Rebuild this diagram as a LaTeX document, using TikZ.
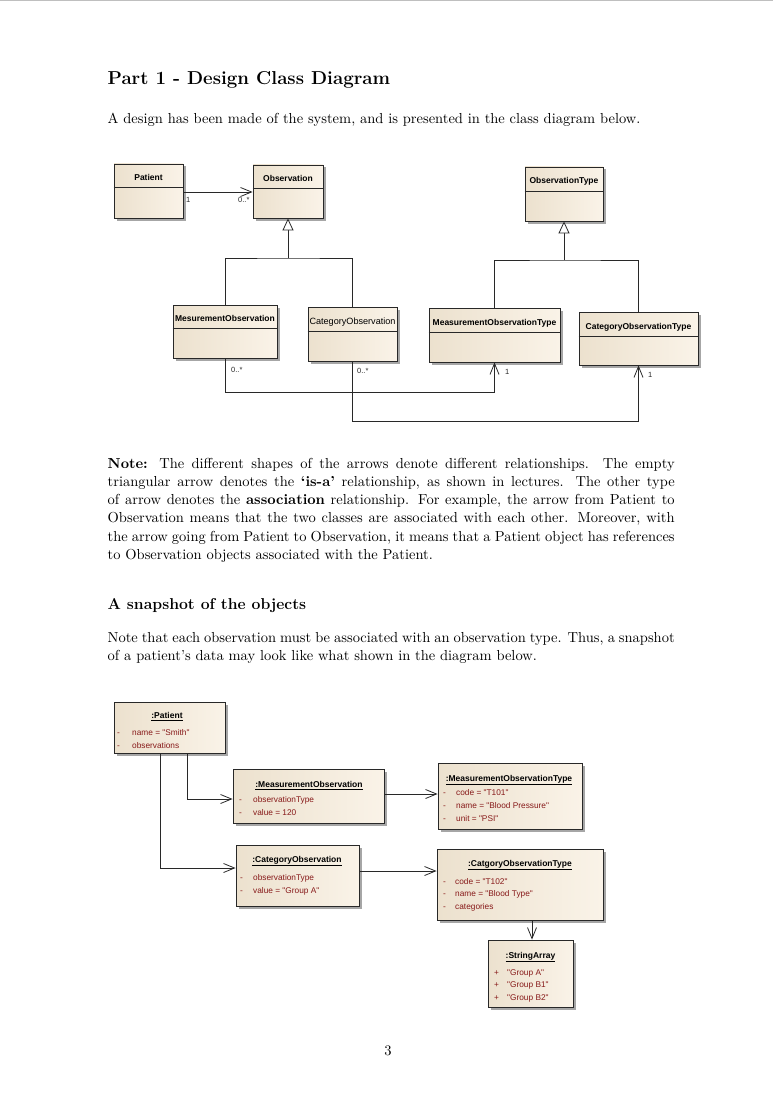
\documentclass[tikz,border=0pt]{standalone}
\usepackage{fontspec}
\setmainfont{lmroman10}[Extension=.otf, UprightFont=*-regular, BoldFont=*-bold, ItalicFont=*-italic]
\newfontfamily\headfont{lmroman12-bold}[Extension=.otf]
\newfontfamily\umlfont{Liberation Sans}
\usetikzlibrary{arrows.meta,shadows}
\definecolor{attrc}{RGB}{135,25,25}
\definecolor{lnc}{RGB}{40,40,40}
\definecolor{boxl}{RGB}{236,225,206}
\definecolor{boxr}{RGB}{250,243,232}
\newcommand\umlbx[6]{%
  \node[umlbox, minimum width={#4-#2}, minimum height={#5-#3}] (#1) at ({(#2+#4)/2},{(#3+#5)/2}) {};
  \ifx&#6&\else\draw[divline] (#1.west |- 0,#6) -- (#1.east |- 0,#6);\fi}
\begin{document}
\begin{tikzpicture}[x=1pt,y=-1pt,
  body/.style={anchor=base west, inner sep=0pt, font=\fontsize{14.5}{18.2}\selectfont},
  sect/.style={anchor=base west, inner sep=0pt, font=\headfont\fontsize{18.7}{22}\selectfont},
  subsect/.style={anchor=base west, inner sep=0pt, font=\headfont\fontsize{15.75}{19}\selectfont},
  umlbox/.style={draw=lnc, line width=0.8pt, left color=boxl, right color=boxr, inner sep=0pt,
     drop shadow={shadow xshift=2.5pt, shadow yshift=-2.5pt, fill=black!35, opacity=1}},
  divline/.style={draw=lnc, line width=0.8pt},
  cname/.style={anchor=base, inner sep=0pt, text=black, font=\umlfont\bfseries\fontsize{8.5}{10}\selectfont},
  cnamer/.style={anchor=base, inner sep=0pt, text=black, font=\umlfont\fontsize{9.1}{10}\selectfont},
  attr/.style={anchor=base west, inner sep=0pt, text=attrc, font=\umlfont\fontsize{8.3}{10}\selectfont},
  mult/.style={anchor=base west, inner sep=0pt, text=black!85, font=\umlfont\fontsize{7.5}{8}\selectfont},
  plain/.style={draw=lnc, line width=0.8pt},
  assoc/.style={draw=lnc, line width=0.8pt, -{Straight Barb[length=11pt,width=9pt,line width=0.8pt]}},
  gen/.style={draw=lnc, line width=0.8pt, -{Triangle[open,length=12pt,width=11pt,fill=white,line width=0.8pt]}}
]
\useasboundingbox (0,0) rectangle (773,1110);
\draw[black!25, line width=0.6pt] (0,0.5) -- (773,0.5);

% ---------- texts ----------
\node[sect] (title) at (107.5,84.3) {Part 1 - Design Class Diagram};
\node[body] (p1) at (107.5,123.3) {A design has been made of the system, and is presented in the class diagram below.};

\node[body] (n1) at (107.5,468.3) {\makebox[567pt][s]{\textbf{Note:} The different shapes of the arrows denote different relationships. The empty}};
\node[body] (n2) at (107.5,486.5) {\makebox[567pt][s]{triangular arrow denotes the \textbf{`is-a'} relationship, as shown in lectures. The other type}};
\node[body] (n3) at (107.5,504.7) {\makebox[567pt][s]{of arrow denotes the \textbf{association} relationship. For example, the arrow from Patient to}};
\node[body] (n4) at (107.5,522.9) {\makebox[567pt][s]{Observation means that the two classes are associated with each other. Moreover, with}};
\node[body] (n5) at (107.5,541.1) {\makebox[567pt][s]{the arrow going from Patient to Observation, it means that a Patient object has references}};
\node[body] (n6) at (107.5,559.3) {to Observation objects associated with the Patient.};

\node[subsect] (snap) at (107.5,609) {A snapshot of the objects};
\node[body] (s1) at (107.5,642.5) {\makebox[567pt][s]{Note that each observation must be associated with an observation type. Thus, a snapshot}};
\node[body] (s2) at (107.5,660.7) {of a patient's data may look like what shown in the diagram below.};

\node[body, anchor=base] (pg) at (388,1055) {3};

% ---------- class diagram ----------
\umlbx{patient}{114}{164}{183}{218}{187}
\umlbx{obs}{253}{165}{323}{218}{188}
\umlbx{obstype}{525}{167}{603}{221}{191}
\umlbx{mobs}{173}{305}{277}{358}{328}
\umlbx{cobs}{308}{307}{397}{361}{331}
\umlbx{mobstype}{429}{308}{560}{362}{332}
\umlbx{cobstype}{579}{312}{698}{365}{336}

\node[cname] (tpatient) at (148.5,180.5) {Patient};
\node[cname] (tobs) at (288,181.5) {Observation};
\node[cname] (tobstype) at (564,184) {ObservationType};
\node[cname] (tmobs) at (225,321.5) {MesurementObservation};
\node[cnamer] (tcobs) at (352.5,324) {CategoryObservation};
\node[cname] (tmobstype) at (494.5,325) {MeasurementObservationType};
\node[cname] (tcobstype) at (638.5,329) {CategoryObservationType};

\draw[assoc] (patient.east |- 0,192) -- (obs.west |- 0,192);
\node[mult] (m1) at (186,203) {1};
\node[mult] (m2) at (238,203) {0..*};

\coordinate (j1) at (288,258);
\draw[plain] (mobs.north) |- (j1) -| (cobs.north);
\draw[gen] (j1) -- (obs.south);
\coordinate (j2) at (564,260);
\draw[plain] (mobstype.north) |- (j2) -| (cobstype.north);
\draw[gen] (j2) -- (obstype.south);

\draw[assoc] (mobs.south) -- (mobs.south |- 0,392) -| (mobstype.south);
\draw[assoc] (cobs.south) -- (cobs.south |- 0,421) -| (cobstype.south);
\node[mult] (m3) at (231,372) {0..*};
\node[mult] (m4) at (357,373) {0..*};
\node[mult] (m5) at (505,374.5) {1};
\node[mult] (m6) at (648,377.5) {1};

% ---------- object diagram ----------
\umlbx{opat}{114}{702}{225}{753}{}
\umlbx{omobs}{233}{769}{384}{823}{}
\umlbx{omtype}{438}{763}{582}{829}{}
\umlbx{ocobs}{236}{845}{359}{906}{}
\umlbx{octype}{437}{849}{603}{920}{}
\umlbx{osa}{488}{940}{573}{1007}{}

\node[cname] (topat) at (167,718.5) {\underline{:Patient}};
\node[attr] (a1d) at (117,735.3) {-};
\node[attr] (a1) at (132,735.3) {name = "Smith"};
\node[attr] (a2d) at (117,748.3) {-};
\node[attr] (a2) at (132,748.3) {observations};

\node[cname] (tomobs) at (309,787.3) {\underline{:MeasurementObservation}};
\node[attr] (b1d) at (239,802.3) {-};
\node[attr] (b1) at (253,802.3) {observationType};
\node[attr] (b2d) at (239,815.3) {-};
\node[attr] (b2) at (253,815.3) {value = 120};

\node[cname] (tomtype) at (509,781.3) {\underline{:MeasurementObservationType}};
\node[attr] (c1d) at (443,795.3) {-};
\node[attr] (c1) at (456,795.3) {code = "T101"};
\node[attr] (c2d) at (443,808.3) {-};
\node[attr] (c2) at (456,808.3) {name = "Blood Pressure"};
\node[attr] (c3d) at (443,821.3) {-};
\node[attr] (c3) at (456,821.3) {unit = "PSI"};

\node[cname] (tocobs) at (297,862.3) {\underline{:CategoryObservation}};
\node[attr] (d1d) at (240,880.3) {-};
\node[attr] (d1) at (253,880.3) {observationType};
\node[attr] (d2d) at (240,893.3) {-};
\node[attr] (d2) at (253,893.3) {value = "Group A"};

\node[cname] (toctype) at (520,866.3) {\underline{:CatgoryObservationType}};
\node[attr] (e1d) at (443,884.3) {-};
\node[attr] (e1) at (455,884.3) {code = "T102"};
\node[attr] (e2d) at (443,896.3) {-};
\node[attr] (e2) at (455,896.3) {name = "Blood Type"};
\node[attr] (e3d) at (443,909.3) {-};
\node[attr] (e3) at (455,909.3) {categories};

\node[cname] (tosa) at (530.5,958.3) {\underline{:StringArray}};
\node[attr] (f1d) at (494,975.3) {+};
\node[attr] (f1) at (507,975.3) {"Group A"};
\node[attr] (f2d) at (494,987.3) {+};
\node[attr] (f2) at (507,987.3) {"Group B1"};
\node[attr] (f3d) at (494,1000.3) {+};
\node[attr] (f3) at (507,1000.3) {"Group B2"};

\draw[assoc] (opat.south -| 187,0) |- (omobs.west |- 0,799);
\draw[assoc] (opat.south -| 160,0) |- (ocobs.west |- 0,868);
\draw[assoc] (omobs.east |- 0,794) -- (omtype.west |- 0,794);
\draw[assoc] (ocobs.east |- 0,871) -- (octype.west |- 0,871);
\draw[assoc] (octype.south -| 532,0) -- (osa.north -| 532,0);
\end{tikzpicture}
\end{document}
